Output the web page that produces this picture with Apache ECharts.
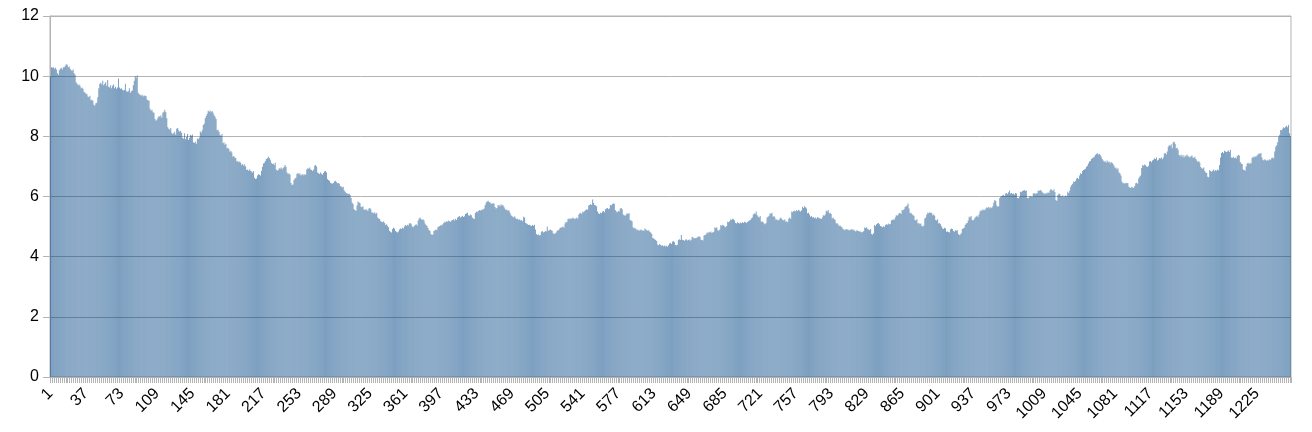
<!DOCTYPE html>
<html>
<head>
<meta charset="utf-8">
<script src="https://cdn.jsdelivr.net/npm/echarts@6/dist/echarts.min.js"></script>
<style>
html,body{margin:0;padding:0;background:#fff;}
#chart{width:1312px;height:432px;}
</style>
</head>
<body>
<div id="chart"></div>
<script>
// Values, in segments of ~100 bars each
const seg0 = [10.0,10.3,10.28,10.3,10.25,10.28,10.22,10.1,10.05,10.2,
10.25,10.28,10.22,10.3,10.3,10.35,10.4,10.38,10.3,10.32,
10.25,10.2,10.18,10.22,10.1,10.05,9.8,9.75,9.7,9.72,
9.68,9.6,9.62,9.58,9.48,9.45,9.42,9.4,9.32,9.3,
9.35,9.2,9.22,9.18,9.05,9.02,9.1,9.12,9.3,9.6,
9.75,9.78,9.72,9.85,9.7,9.75,9.8,9.68,9.87,9.65,
9.62,9.7,9.6,9.68,9.72,9.6,9.65,9.58,9.62,9.92,
9.62,9.58,9.6,9.55,9.52,9.55,9.75,9.5,9.48,9.5,
9.6,9.45,9.5,9.52,9.7,9.85,10.0,9.95,10.02,9.45,
9.4,9.38,9.35,9.38,9.32,9.36,9.35,9.33,9.22,9.2,
9.18];
const seg1 = [8.92,8.85,8.88,8.8,8.78,8.58,8.52,8.55,8.62,8.68,
8.65,8.7,8.62,8.78,8.82,8.88,8.8,8.6,8.3,8.25,
8.22,8.28,8.12,8.08,8.1,8.15,8.05,8.25,8.28,8.2,
8.15,8.18,8.12,7.95,7.92,8.1,7.9,7.98,8.08,7.88,
7.95,8.05,8.02,8.06,7.8,7.78,7.82,7.75,7.93,7.9,
7.96,8.16,8.12,8.2,8.38,8.42,8.6,8.68,8.75,8.85,
8.82,8.86,8.8,8.84,8.78,8.7,8.65,8.58,8.2,8.22,
8.15,8.05,8.02,8.08,7.77,7.8,7.72,7.75,7.6,7.62,
7.58,7.49,7.52,7.46,7.32,7.35,7.3,7.28,7.16,7.18,
7.14,7.16,7.12,7.05,7.08,7.02,7.06,7.0,6.88,6.9,
6.86];
const seg2 = [6.9,6.86,6.83,6.8,6.85,6.62,6.58,6.6,6.7,6.74,
6.72,6.7,6.85,6.98,7.1,7.12,7.18,7.25,7.27,7.32,
7.28,7.22,7.12,7.08,7.1,7.05,7.12,6.9,6.86,6.88,
6.94,6.92,6.96,6.9,6.95,6.99,7.05,6.98,6.8,6.75,
6.77,6.72,6.45,6.38,6.4,6.55,6.6,6.62,6.75,6.78,
6.74,6.77,6.7,6.72,6.75,6.7,6.74,6.72,6.9,6.94,
6.92,6.96,6.9,6.88,6.85,6.9,7.02,7.05,7.0,6.8,
6.77,6.75,6.8,6.76,6.72,6.78,6.83,6.85,6.8,6.58,
6.55,6.52,6.46,6.44,6.42,6.45,6.5,6.52,6.48,6.44,
6.45,6.42,6.35,6.33,6.3,6.32,6.2,6.16,6.12,6.1,
6.08,6.1];
const seg3 = [6.05,5.95,5.8,5.75,5.58,5.55,5.52,5.7,5.83,5.8,
5.78,5.66,5.64,5.68,5.57,5.55,5.58,5.56,5.52,5.6,
5.62,5.58,5.48,5.46,5.44,5.48,5.42,5.46,5.3,5.27,
5.25,5.18,5.16,5.14,5.18,5.12,5.05,5.08,5.02,4.98,
4.85,4.83,4.8,4.92,4.96,4.94,4.85,4.83,4.8,4.84,
4.9,4.94,4.92,4.96,4.94,5.0,5.05,5.02,5.06,5.04,
5.1,5.12,5.08,5.0,4.98,5.02,5.05,5.08,5.04,5.2,
5.27,5.3,5.25,5.22,5.24,5.2,5.1,5.05,5.02,4.95,
4.88,4.86,4.75,4.72,4.74,4.85,4.88,4.9,4.88,4.98,
5.0,5.02,5.05,5.04,5.08,5.12,5.16,5.14,5.18,5.16,
5.2];
const seg4 = [5.18,5.16,5.2,5.22,5.24,5.2,5.26,5.22,5.3,5.33,
5.35,5.3,5.33,5.36,5.32,5.34,5.42,5.44,5.46,5.38,
5.36,5.4,5.38,5.3,5.27,5.25,5.45,5.5,5.48,5.52,
5.55,5.53,5.56,5.55,5.58,5.6,5.72,5.8,5.83,5.86,
5.82,5.8,5.77,5.75,5.78,5.76,5.65,5.6,5.62,5.7,
5.72,5.68,5.74,5.7,5.72,5.66,5.6,5.55,5.57,5.52,
5.55,5.48,5.4,5.35,5.33,5.3,5.34,5.28,5.25,5.26,
5.22,5.24,5.2,5.22,5.18,5.33,5.3,5.12,5.1,5.08,
5.05,5.06,5.04,5.02,5.05,5.03,5.06,4.9,4.75,4.72,
4.74,4.7,4.72,4.83,4.85,4.8,4.82,4.86,4.84,5.0,
4.86,4.88];
const seg5 = [4.9,4.88,4.86,4.78,4.75,4.77,4.8,4.86,4.88,4.9,
4.95,4.97,4.98,5.0,4.96,5.1,5.16,5.14,5.25,5.27,
5.24,5.28,5.26,5.3,5.27,5.25,5.28,5.3,5.26,5.4,
5.44,5.46,5.42,5.5,5.48,5.52,5.55,5.58,5.56,5.7,
5.72,5.75,5.72,5.9,5.78,5.72,5.7,5.68,5.5,5.44,
5.42,5.46,5.44,5.5,5.52,5.48,5.58,5.6,5.62,5.58,
5.6,5.72,5.7,5.75,5.77,5.76,5.55,5.5,5.48,5.52,
5.5,5.6,5.62,5.58,5.4,5.38,5.36,5.4,5.44,5.42,
5.45,5.22,5.2,5.18,4.98,4.94,4.96,4.92,4.88,4.9,
4.86,4.88,4.9,4.87,4.88,4.85,4.94,4.9,4.88,4.86,
4.88];
const seg6 = [4.83,4.8,4.75,4.62,4.6,4.58,4.55,4.52,4.4,4.38,
4.42,4.39,4.36,4.38,4.35,4.37,4.34,4.36,4.33,4.38,
4.44,4.46,4.42,4.5,4.52,4.48,4.39,4.38,4.4,4.55,
4.58,4.55,4.72,4.56,4.55,4.52,4.56,4.58,4.54,4.55,
4.57,4.53,4.56,4.66,4.64,4.6,4.62,4.61,4.64,4.66,
4.68,4.65,4.55,4.56,4.54,4.7,4.72,4.74,4.8,4.78,
4.82,4.8,4.84,4.79,4.81,4.83,4.97,4.95,4.98,4.88,
4.86,4.9,5.05,5.02,5.06,5.04,5.0,4.98,5.02,5.16,
5.14,5.18,5.24,5.22,5.26,5.24,5.2,5.12,5.1,5.14,
5.12,5.1,5.13,5.11,5.14,5.12,5.16,5.14,5.12,5.15,
5.18,5.2];
const seg7 = [5.22,5.27,5.3,5.4,5.44,5.42,5.5,5.38,5.33,5.3,
5.35,5.16,5.18,5.14,5.1,5.08,5.12,5.3,5.33,5.36,
5.44,5.42,5.46,5.33,5.35,5.3,5.22,5.24,5.2,5.22,
5.27,5.3,5.25,5.22,5.2,5.24,5.16,5.18,5.14,5.27,
5.3,5.25,5.5,5.48,5.52,5.53,5.5,5.55,5.52,5.56,
5.53,5.5,5.54,5.66,5.62,5.68,5.64,5.6,5.44,5.46,
5.4,5.33,5.35,5.3,5.32,5.28,5.3,5.26,5.31,5.3,
5.28,5.27,5.25,5.3,5.38,5.36,5.4,5.53,5.5,5.55,
5.44,5.46,5.42,5.27,5.3,5.25,5.22,5.1,5.12,5.08,
5.02,5.04,5.0,4.98,4.92,4.9,4.88,4.92,4.9,4.9,
4.88];
const seg8 = [4.88,4.9,4.92,4.88,4.9,4.86,4.84,4.88,4.86,4.85,
4.83,4.84,4.8,4.82,4.85,4.97,4.95,4.98,4.92,4.9,
4.88,4.92,4.75,4.74,4.78,5.05,5.02,5.08,5.1,5.12,
5.08,5.02,5.0,4.98,5.01,4.99,5.05,5.08,5.06,5.1,
5.07,5.09,5.2,5.22,5.24,5.22,5.3,5.38,5.36,5.4,
5.44,5.46,5.42,5.55,5.54,5.58,5.65,5.68,5.7,5.77,
5.6,5.44,5.46,5.42,5.38,5.36,5.22,5.2,5.24,5.1,
5.12,5.08,5.1,5.02,5.0,5.04,5.27,5.3,5.4,5.46,
5.44,5.48,5.45,5.46,5.38,5.4,5.36,5.22,5.2,5.24,
5.1,5.12,5.08,5.0,4.94,4.92,4.96,4.94,4.83,4.84,
4.82,4.8];
const seg9 = [4.9,4.94,4.92,4.85,4.83,4.88,4.86,4.88,4.75,4.72,
4.74,4.78,4.92,4.94,4.96,5.05,5.1,5.12,5.2,5.33,
5.3,5.35,5.22,5.2,5.24,5.3,5.33,5.36,5.32,5.4,
5.5,5.55,5.52,5.58,5.54,5.56,5.6,5.64,5.62,5.66,
5.6,5.64,5.62,5.68,5.8,5.88,5.85,5.7,5.66,5.68,
5.95,5.99,6.02,6.04,6.06,6.02,6.1,6.12,6.08,6.14,
6.2,6.1,6.12,6.08,6.1,6.06,6.12,6.1,5.95,5.94,
5.98,6.16,6.14,6.18,6.2,6.22,6.18,6.2,5.95,5.94,
5.98,6.02,6.0,5.98,6.1,6.12,6.08,6.1,6.12,6.2,
6.18,6.22,6.2,6.16,6.12,6.1,6.08,6.12,6.1,6.14,
6.12];
const seg10 = [6.2,6.25,6.22,6.18,6.24,6.15,5.88,5.85,6.05,6.1,
6.08,6.02,6.0,6.04,5.98,6.01,6.03,6.0,6.16,6.12,
6.2,6.32,6.38,6.42,6.5,6.48,6.52,6.6,6.62,6.58,
6.7,6.77,6.75,6.85,6.88,6.9,6.92,6.99,7.02,7.1,
7.16,7.18,7.25,7.27,7.3,7.32,7.38,7.41,7.44,7.4,
7.42,7.38,7.32,7.25,7.2,7.15,7.18,7.12,7.2,7.14,
7.16,7.1,7.15,7.12,7.08,7.02,6.94,6.96,6.9,6.94,
6.8,6.77,6.7,6.5,6.44,6.45,6.42,6.46,6.44,6.45,
6.32,6.3,6.28,6.32,6.3,6.28,6.35,6.44,6.46,6.42,
6.6,6.66,6.7,6.95,7.05,7.02,7.06,7.04,7.0,6.98,
7.02,7.16];
const seg11 = [7.18,7.14,7.2,7.22,7.27,7.25,7.3,7.2,7.22,7.28,
7.26,7.3,7.24,7.3,7.43,7.45,7.4,7.5,7.65,7.71,
7.68,7.74,7.6,7.8,7.82,7.75,7.6,7.62,7.55,7.38,
7.35,7.4,7.32,7.38,7.3,7.36,7.33,7.4,7.35,7.32,
7.3,7.34,7.36,7.3,7.28,7.32,7.25,7.2,7.15,7.18,
7.12,6.98,6.94,6.92,6.96,6.85,6.8,6.78,6.66,6.64,
6.88,6.85,6.82,6.86,6.9,6.84,6.88,6.86,6.9,6.87,
7.05,7.3,7.45,7.48,7.44,7.52,7.5,7.48,7.5,7.53,
7.48,7.55,7.3,7.28,7.32,7.27,7.3,7.26,7.35,7.38,
7.36,7.15,7.1,7.08,6.9,6.88,6.86,7.0,7.1,7.12,
7.08];
const seg12 = [7.12,7.1,7.28,7.32,7.3,7.34,7.32,7.36,7.4,7.43,
7.42,7.45,7.3,7.22,7.2,7.24,7.21,7.18,7.22,7.2,
7.24,7.22,7.28,7.3,7.26,7.5,7.65,7.7,7.8,7.99,
8.05,8.21,8.2,8.25,8.3,8.28,8.32,8.35,8.3,8.38,
8.1,8.0];

const values = [].concat(seg0,seg1,seg2,seg3,seg4,seg5,seg6,seg7,seg8,seg9,seg10,seg11,seg12);
const categories = values.map((_, i) => String(i + 1));
const yTicks = [0, 2, 4, 6, 8, 10, 12];

const chart = echarts.init(document.getElementById('chart'), null, {renderer: 'canvas'});
chart.setOption({
  animation: false,
  backgroundColor: '#ffffff',
  grid: {left: 50, right: 21, top: 16, bottom: 55, containLabel: false,
         show: true, borderColor: '#b3b3b3', borderWidth: 1, backgroundColor: 'transparent'},
  xAxis: {
    type: 'category',
    data: categories,
    boundaryGap: true,
    axisLine: {show: true, lineStyle: {color: '#b3b3b3', width: 1}},
    axisTick: {show: true, interval: 1, length: 6, lineStyle: {color: '#b3b3b3'}},
    axisLabel: {interval: 35, rotate: 45, color: '#000', fontSize: 16,
                fontFamily: 'Liberation Sans, Arial, sans-serif', margin: 14},
    splitLine: {show: false}
  },
  yAxis: {
    type: 'value',
    min: yTicks[0],
    max: yTicks[yTicks.length - 1],
    interval: 2,
    axisLine: {show: true, lineStyle: {color: '#b3b3b3', width: 1}},
    axisTick: {show: true, length: 7, lineStyle: {color: '#b3b3b3'}},
    axisLabel: {color: '#000', fontSize: 16, fontFamily: 'Liberation Sans, Arial, sans-serif', margin: 11},
    splitLine: {show: true, lineStyle: {color: '#b3b3b3', width: 1}}
  },
  series: [{
    type: 'bar',
    data: values,
    barCategoryGap: '10%',
    large: false,
    itemStyle: {color: 'rgba(0,69,134,0.5)'},
    emphasis: {disabled: true}
  }]
});
</script>
</body>
</html>
